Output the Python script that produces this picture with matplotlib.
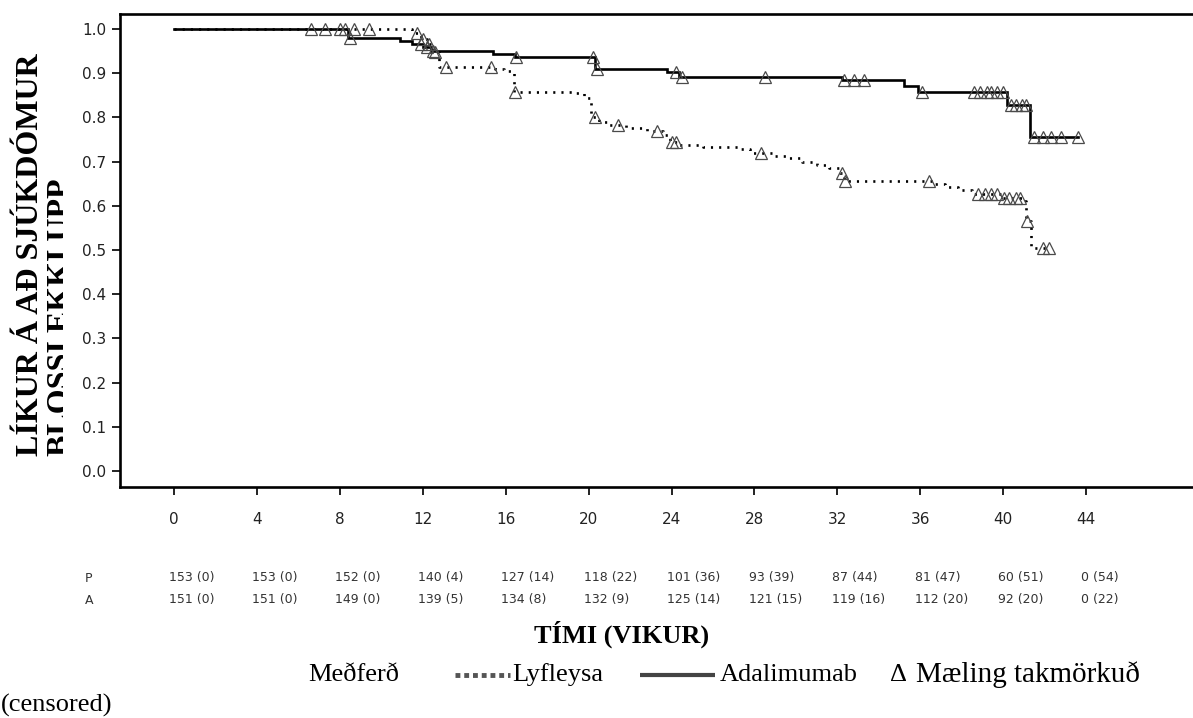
import numpy as np
import matplotlib
matplotlib.use("Agg")
import matplotlib.pyplot as plt
from matplotlib.lines import Line2D
from matplotlib.patches import Rectangle
import matplotlib.transforms as mtransforms

# ---------------- data ----------------
ada_times = [0, 8.4, 10.9, 11.5, 12.0, 12.4, 15.4, 16.45, 20.3, 23.8, 24.35, 32.2, 35.2, 35.9, 40.2, 41.3]
ada_surv = [1.0, 0.979, 0.973, 0.967, 0.96, 0.951, 0.943, 0.936, 0.909, 0.903, 0.892, 0.885, 0.871, 0.858, 0.829, 0.755]
ada_end = 43.6
ada_censor = [8.5, 11.9, 12.2, 12.5, 16.5, 20.2, 20.4, 24.2, 24.5, 28.5, 32.3, 32.8, 33.3, 36.1,
              38.6, 38.9, 39.2, 39.4, 39.7, 40.0, 40.4, 40.6, 40.9, 41.1, 41.5, 41.9, 42.3, 42.8, 43.6]

pla_times = [0, 11.5, 11.9, 12.2, 12.5, 12.8, 15.5, 15.9, 16.4, 19.4, 19.8, 20.1, 20.5, 21.0, 21.8,
             22.8, 23.6, 23.95, 24.3, 25.5, 27.2, 27.8, 28.9, 29.6, 30.3, 31.0, 31.6, 32.15, 32.3,
             36.6, 37.2, 37.8, 38.5, 40.0, 40.9, 41.1, 41.35]
pla_surv = [1.0, 0.99, 0.978, 0.965, 0.948, 0.915, 0.91, 0.905, 0.858, 0.855, 0.845, 0.80, 0.79, 0.783,
            0.775, 0.77, 0.76, 0.745, 0.738, 0.734, 0.728, 0.72, 0.713, 0.708, 0.70, 0.693, 0.685,
            0.675, 0.656, 0.65, 0.642, 0.635, 0.626, 0.617, 0.61, 0.565, 0.505]
pla_end = 42.2
pla_censor = [6.6, 7.3, 8.0, 8.25, 8.7, 9.4, 11.7, 12.0, 12.3, 12.6, 13.1, 15.3, 16.45, 20.3, 21.4,
              23.3, 24.0, 24.2, 28.3, 32.2, 32.35, 36.4, 38.8, 39.1, 39.4, 39.7, 40.05, 40.3, 40.6,
              40.8, 41.15, 41.9, 42.2]

x_ticks = [0, 4, 8, 12, 16, 20, 24, 28, 32, 36, 40, 44]
y_ticks = [0.0, 0.1, 0.2, 0.3, 0.4, 0.5, 0.6, 0.7, 0.8, 0.9, 1.0]
risk_P = ["153 (0)", "153 (0)", "152 (0)", "140 (4)", "127 (14)", "118 (22)", "101 (36)",
          "93 (39)", "87 (44)", "81 (47)", "60 (51)", "0 (54)"]
risk_A = ["151 (0)", "151 (0)", "149 (0)", "139 (5)", "134 (8)", "132 (9)", "125 (14)",
          "121 (15)", "119 (16)", "112 (20)", "92 (20)", "0 (22)"]

ylabel_text = "LÍKUR Á AÐ SJÚKDÓMUR\nBLOSSI EKKI UPP"
xlabel_text = "TÍMI (VIKUR)"
leg_title = "Meðferð"
leg_pla = "Lyfleysa"
leg_ada = "Adalimumab"
leg_delta = "Δ"
leg_cens = "Mæling takmörkuð"
leg_cens2 = "(censored)"

# ---------------- figure ----------------
W, H = 1193, 718
fig = plt.figure(figsize=(W / 100, H / 100), dpi=100)
fig.patch.set_facecolor("white")

def fx(px):
    return px / W

def fy(py):
    return 1 - py / H

ax_left, ax_top, ax_bot, ax_right = 120, 14, 487, 1205
ax = fig.add_axes([fx(ax_left), fy(ax_bot), (ax_right - ax_left) / W, (ax_bot - ax_top) / H])
px_per_week = 20.73
x0 = -(174 - ax_left) / px_per_week
ax.set_xlim(x0, x0 + (ax_right - ax_left) / px_per_week)
ax.set_ylim(-(487 - 471) / 442, 1 + (29 - 14) / 442)

for side in ["left", "bottom", "top"]:
    ax.spines[side].set_linewidth(1.9)
    ax.spines[side].set_color("black")
ax.spines["right"].set_visible(False)

ax.set_xticks(x_ticks)
ax.set_xticklabels([str(t) for t in x_ticks])
ax.set_yticks(y_ticks)
ax.set_yticklabels([f"{v:.1f}" for v in y_ticks])
ax.tick_params(axis="both", direction="out", length=6, width=1.4, colors="#222222",
               labelsize=11)
ax.tick_params(axis="y", pad=4)
ax.tick_params(axis="x", pad=12)
for lab in ax.get_xticklabels() + ax.get_yticklabels():
    lab.set_family("DejaVu Sans")


def step_eval(times, surv, t):
    idx = np.searchsorted(np.asarray(times), np.asarray(t), side="right") - 1
    return np.asarray(surv)[idx]

# Curves
ax.step(list(ada_times) + [ada_end], list(ada_surv) + [ada_surv[-1]], where="post",
        color="black", lw=1.9, solid_joinstyle="miter")
ax.step(list(pla_times) + [pla_end], list(pla_surv) + [pla_surv[-1]], where="post",
        color="black", lw=1.9, linestyle=(0, (0.8, 2.3)), dash_capstyle="butt")

marker_kw = dict(linestyle="none", marker="^", markersize=9, markerfacecolor="none",
                 markeredgecolor="#4a4a4a", markeredgewidth=0.9)
ax.plot(pla_censor, step_eval(pla_times, pla_surv, pla_censor), **marker_kw)
ax.plot(ada_censor, step_eval(ada_times, ada_surv, ada_censor), **marker_kw)

# At-risk table
trans_blend = mtransforms.blended_transform_factory(ax.transData, fig.transFigure)
shift = 5 / px_per_week
for t, p, a in zip(x_ticks, risk_P, risk_A):
    fig.text(t - shift, fy(578), p, transform=trans_blend, ha="left", va="center",
             fontsize=9, color="#333333", family="DejaVu Sans")
    fig.text(t - shift, fy(600), a, transform=trans_blend, ha="left", va="center",
             fontsize=9, color="#333333", family="DejaVu Sans")
fig.text(fx(85), fy(578), "P", ha="left", va="center", fontsize=9, color="#333333")
fig.text(fx(85), fy(600), "A", ha="left", va="center", fontsize=9, color="#333333")

# Y label (second line partly hidden as in the reference)
fig.text(fx(16), fy(456), ylabel_text, rotation=90, ha="left", va="bottom",
         multialignment="left", fontsize=23, fontweight="bold", family="Liberation Serif",
         linespacing=1.08, color="black", zorder=-2)
fig.add_artist(Rectangle((fx(63), 0), fx(118) - fx(63), 1, transform=fig.transFigure,
                         facecolor="white", edgecolor="none", zorder=-1))

# X label
fig.text(fx(622), fy(634), xlabel_text, ha="center", va="center", fontsize=19,
         fontweight="bold", family="Liberation Serif", color="black")

# Legend row
ly = fy(675)
fig.text(fx(308), ly, leg_title, ha="left", va="center", fontsize=19,
         family="Liberation Serif", color="black")
fig.add_artist(Line2D([fx(455), fx(510)], [ly, ly], transform=fig.transFigure, color="#555555",
                      lw=3.5, linestyle=(0, (1, 0.8)), dash_capstyle="butt"))
fig.text(fx(512), ly, leg_pla, ha="left", va="center", fontsize=19,
         family="Liberation Serif", color="black")
fig.add_artist(Line2D([fx(640), fx(715)], [ly, ly], transform=fig.transFigure, color="#444444",
                      lw=3.0, solid_capstyle="butt"))
fig.text(fx(720), ly, leg_ada, ha="left", va="center", fontsize=19,
         family="Liberation Serif", color="black")
fig.text(fx(890), ly, leg_delta, ha="left", va="center", fontsize=19,
         family=["Liberation Serif", "DejaVu Serif"], color="black")
fig.text(fx(916), ly, leg_cens, ha="left", va="center", fontsize=21,
         family="Liberation Serif", color="black")
fig.text(fx(1), fy(705), leg_cens2, ha="left", va="center", fontsize=19,
         family="Liberation Serif", color="black")

fig.savefig("out.png", dpi=100, facecolor="white")
